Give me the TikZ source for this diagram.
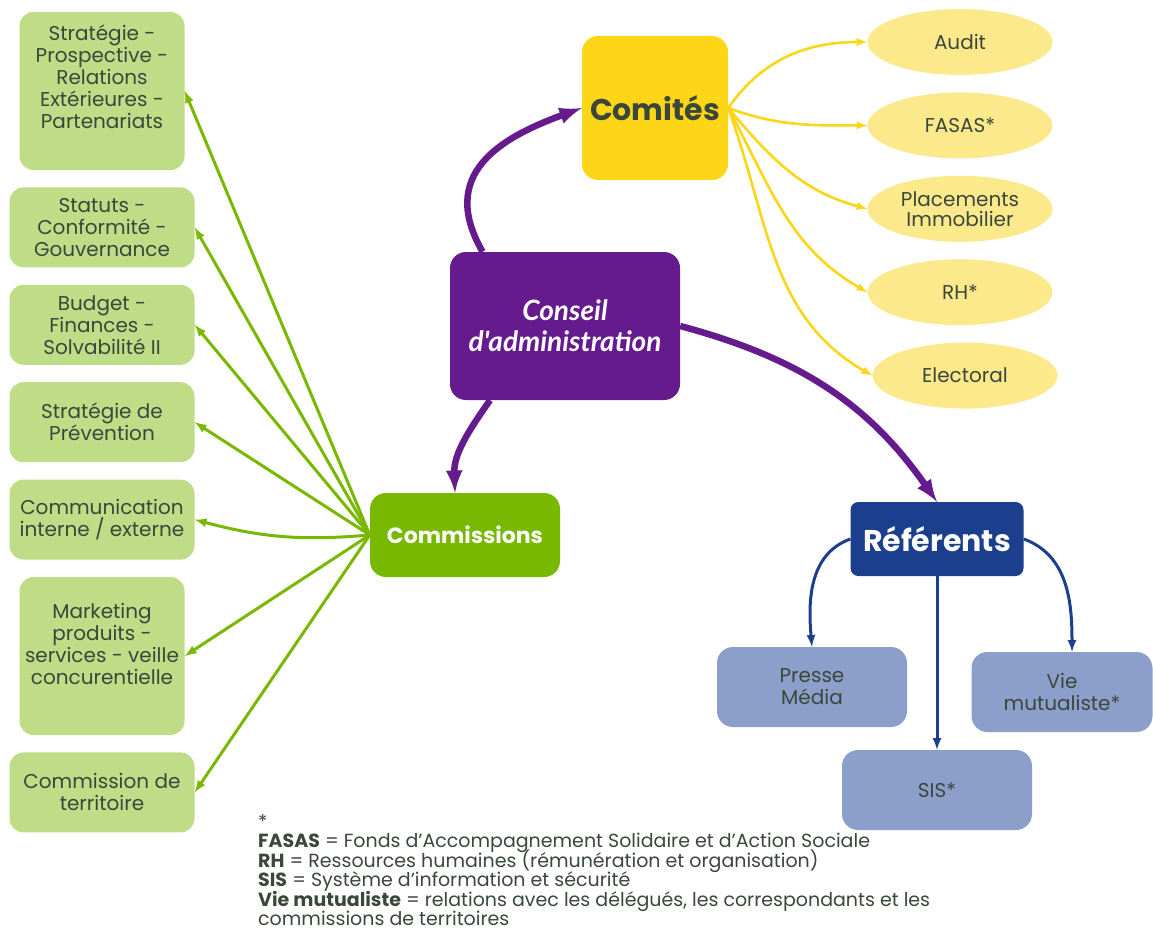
\documentclass[tikz,border=0pt]{standalone}
\usepackage{fontspec}
\setmainfont{Poppins}
\newfontfamily\conseilfont{Lato}
\usepackage{tikz}
\usetikzlibrary{
	arrows,	calc,shapes,shapes.geometric, positioning
}
\definecolor{vertclair}{HTML}{BFDC86}
\definecolor{vert}{HTML}{78B800}
\definecolor{violet}{HTML}{651A8D}
\definecolor{jaune}{HTML}{FCD617}
\definecolor{jauneclair}{HTML}{FCE98B}
\definecolor{bleu}{HTML}{1C3F8D}
\definecolor{bleuclair}{HTML}{8C9FCB}
\definecolor{gristexte}{HTML}{3A473A}
\tikzstyle{commission} = [rectangle, rounded corners=14pt, fill=vertclair, minimum width=185pt, minimum height=80pt, align=center, text=gristexte, font=\fontsize{20}{22}\selectfont]
\tikzstyle{comite} = [ellipse, fill=jauneclair, minimum width=185pt, minimum height=66pt, inner sep=1pt, align=center, text=gristexte, font=\fontsize{20}{20}\selectfont]
\tikzstyle{referent} = [rectangle, rounded corners=16pt, fill=bleuclair, minimum width=190pt, minimum height=80pt, align=center, text=gristexte, font=\fontsize{20}{22}\selectfont]
\tikzstyle{principal} = [rectangle, rounded corners=16pt, align=center, text=white, font=\bfseries]
\tikzstyle{flecheverte} = [-latex, line width=3pt, vert]
\tikzstyle{flechejaune} = [-latex, line width=2.6pt, jaune]
\tikzstyle{flechebleue} = [-latex, line width=3pt, bleu]
\tikzstyle{flecheviolette} = [-latex, line width=6.5pt, violet]
\newcommand{\notefont}{\fontsize{19}{19.5}\selectfont\lineskiplimit-20pt\relax}

\begin{document}
\begin{tikzpicture}[x=1pt, y=-1pt, node distance=17pt]
	\useasboundingbox (0,0) rectangle (1153,934);
			\node[principal, fill=violet, minimum width=230pt, minimum height=148pt, font=\conseilfont\bfseries\itshape\fontsize{28}{31}\selectfont] (cons) at (565,326) {Conseil\\d'administration};
			\node[principal, fill=jaune, text=gristexte, minimum width=146pt, minimum height=144pt, font=\bfseries\fontsize{30}{32}\selectfont] (comites) at (655,108) {Comités};
			\node[principal, fill=vert, minimum width=190pt, minimum height=84pt, font=\bfseries\fontsize{22}{24}\selectfont] (comm) at (465,535) {Commissions};
			\node[principal, fill=bleu, rounded corners=8pt, minimum width=173pt, minimum height=74pt, font=\bfseries\fontsize{30}{32}\selectfont] (ref) at (937,539) {Référents};
			
			% commissions
			\node[commission, minimum width=165pt, minimum height=158pt] (com1) at (102,91) {Stratégie -\\Prospective -\\Relations\\Extérieures -\\Partenariats\\[6pt]};
			\node[commission, below=of com1] (com2) {Statuts -\\Conformité -\\Gouvernance};
			\node[commission, below=of com2] (com3) {Budget -\\Finances -\\Solvabilité II};
			\node[commission, below=of com3] (com4) {Stratégie de\\Prévention};
			\node[commission, below=of com4] (com5) {Communication\\interne / externe};
			\node[commission, below=of com5, minimum width=165pt, minimum height=158pt] (com6) {Marketing\\produits -\\services - veille\\concurentielle\\[2pt]};
			\node[commission, below=of com6] (com7) {Commission de\\territoire};
			
			% comites
			\node[comite] (cte1) at (960,42) {Audit};
			\node[comite, below=of cte1] (cte2) {FASAS*};
			\node[comite, below=of cte2] (cte3) {Placements\\Immobilier};
			\node[comite, below=of cte3] (cte4) {RH*};
			\node[comite, below=of cte4, xshift=5pt] (cte5) {Electoral};
			
			% referents
			\node[referent] (ref1) at (812,687) {Presse\\Média};
			\node[referent, minimum width=181pt] (ref2) at (1062,692) {Vie\\mutualiste*};
			\node[referent] (ref3) at (937,790) {SIS*};
			
			% notes
			\node[anchor=north west, align=left, text=gristexte, inner sep=0pt, font=\notefont] (notes) at (258,814) {*\\\textbf{FASAS} = Fonds d'Accompagnement Solidaire et d'Action Sociale\\\textbf{RH} = Ressources humaines (rémunération et organisation)\\\textbf{SIS} = Système d'information et sécurité\\\textbf{Vie mutualiste} = relations avec les délégués, les correspondants et les\\commissions de territoires};
			
			%arrow
			\draw [flecheviolette] (cons.138) to[out=120, in=200, looseness=1.3] (comites.west);
			\draw [flecheviolette] ([xshift=-75pt]cons.south) to[out=235, in=92] ([xshift=-10pt]comm.north);
			\draw [flecheviolette] (cons.east) to[out=-15, in=125] (ref.north);
			
			\draw [flechejaune] (comites.east) to[out=55, in=180] (cte1.west);
			\draw [flechejaune] (comites.east) to[out=-20, in=180] (cte2.west);
			\draw [flechejaune] (comites.east) to[out=-50, in=165] (cte3.west);
			\draw [flechejaune] (comites.east) to[out=-62, in=150] (cte4.west);
			\draw [flechejaune] (comites.east) to[out=-70, in=150] (cte5.west);
			
			\foreach \c in {com1,com2,com3,com4,com6,com7}
				\draw [flecheverte] (comm.west) -- (\c.east);
			\draw [flecheverte] (comm.west) to[bend left=10] (com5.east);
			
			\draw [flechebleue] (ref.west) to[out=200, in=95] (ref1.north);
			\draw [flechebleue] (ref.south) -- (ref3.north);
			\draw [flechebleue] (ref.east) to[out=-20, in=90] ([xshift=10pt]ref2.north);
			
		\end{tikzpicture}
\end{document}
